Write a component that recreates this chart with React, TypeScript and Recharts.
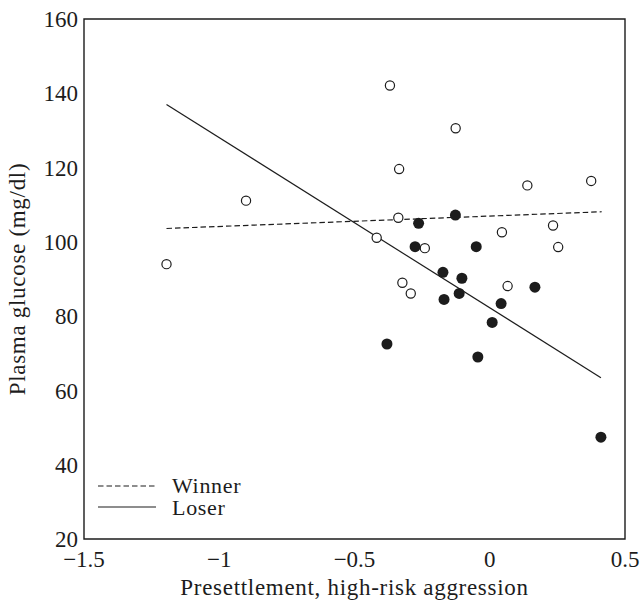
import React from "react";
import { ScatterChart, Scatter, XAxis, YAxis, ReferenceArea, Legend } from "recharts";

const xTicks = [-1.5, -1, -0.5, 0, 0.5];
const yTicks = [20, 40, 60, 80, 100, 120, 140, 160];

// Winner (open circles)
const winnerX = [-1.195, -0.901, -0.369, -0.126, -0.335, 0.139, 0.375, -0.338, 0.045, 0.234, -0.418, -0.24, 0.253, -0.323, -0.292, 0.066];
const winnerY = [94.0, 111.1, 142.1, 130.6, 119.6, 115.2, 116.4, 106.5, 102.6, 104.4, 101.1, 98.3, 98.6, 89.0, 86.1, 88.1];

// Loser (filled circles)
const loserX = [-0.127, -0.263, -0.276, -0.05, -0.173, -0.103, 0.167, -0.113, -0.169, 0.042, 0.009, -0.38, -0.044, 0.411];
const loserY = [107.2, 105.0, 98.7, 98.7, 91.8, 90.2, 87.8, 86.1, 84.5, 83.4, 78.3, 72.5, 69.0, 47.4];

// fitted lines (end points)
const winnerFitX = [-1.195, 0.414];
const winnerFitY = [103.6, 108.1];
const loserFitX = [-1.195, 0.411];
const loserFitY = [137.0, 63.4];

const legendOrder = ["Winner", "Loser"];

const zip = (xs: number[], ys: number[]) => xs.map((x, i) => ({ x, y: ys[i] }));

const INK = "#1c1c1c";
const FONT = "'Liberation Serif', 'Times New Roman', serif";
const FS = 23;
const SPACING = 0.7;

const fmt = (v: number) => (v < 0 ? "\u2212" + Math.abs(v) : String(v));

const OpenDot = (p: any) => (
  <circle cx={p.cx} cy={p.cy} r={4.6} fill="#fff" stroke={INK} strokeWidth={1.2} />
);
const FilledDot = (p: any) => <circle cx={p.cx} cy={p.cy} r={5.5} fill={INK} />;
const NoDot = () => <g />;

const dashes: Record<string, string | undefined> = { Winner: "5.5 3", Loser: undefined };

const renderLegend = (props: any) => {
  const items = (props.payload || [])
    .filter((e: any) => legendOrder.includes(e.value))
    .sort((a: any, b: any) => legendOrder.indexOf(a.value) - legendOrder.indexOf(b.value));
  return (
    <svg width={150} height={50} style={{ display: "block" }}>
      {items.map((e: any, i: number) => (
        <g key={e.value}>
          <line
            x1={2}
            x2={60}
            y1={16 + i * 21}
            y2={16 + i * 21}
            stroke={INK}
            strokeWidth={1.2}
            strokeDasharray={dashes[e.value]}
          />
          <text
            x={76}
            y={15 + i * 22}
            dominantBaseline="central"
            fontFamily={FONT}
            fontSize={22}
            letterSpacing={SPACING}
            fill={INK}
          >
            {e.value}
          </text>
        </g>
      ))}
    </svg>
  );
};

export default function App() {
  const tickStyle = { fill: INK, fontSize: FS, fontFamily: FONT };
  return (
    <div style={{ position: "absolute", left: 0, top: 0, background: "#fff" }}>
      <ScatterChart width={643} height={601} margin={{ top: 19, right: 18, bottom: 0, left: 0 }}>
        <XAxis
          type="number"
          dataKey="x"
          domain={[-1.5, 0.5]}
          ticks={xTicks}
          interval={0}
          tickFormatter={fmt}
          tickLine={false}
          axisLine={false}
          tickSize={0}
          tickMargin={12}
          height={62}
          tick={tickStyle}
          allowDataOverflow
          label={{
            value: "Presettlement, high-risk aggression",
            position: "insideBottom",
            offset: 6,
            fill: INK,
            fontSize: FS,
            fontFamily: FONT,
            style: { letterSpacing: SPACING },
          }}
        />
        <XAxis
          xAxisId="in"
          type="number"
          dataKey="x"
          mirror
          domain={[-1.5, 0.5]}
          ticks={xTicks}
          interval={0}
          tick={false}
          axisLine={false}
          tickLine={{ stroke: INK, strokeWidth: 1.3 }}
          tickSize={8}
          height={0}
          allowDataOverflow
        />
        <YAxis
          type="number"
          dataKey="y"
          domain={[20, 160]}
          ticks={yTicks}
          interval={0}
          tickLine={false}
          axisLine={false}
          tickSize={0}
          tickMargin={6}
          width={84}
          tick={tickStyle}
          allowDataOverflow
          label={{
            value: "Plasma glucose (mg/dl)",
            angle: -90,
            position: "insideLeft",
            offset: 17,
            style: { textAnchor: "middle", letterSpacing: SPACING },
            fill: INK,
            fontSize: FS,
            fontFamily: FONT,
          }}
        />
        <YAxis
          yAxisId="in"
          type="number"
          dataKey="y"
          mirror
          domain={[20, 160]}
          ticks={yTicks}
          interval={0}
          tick={false}
          axisLine={false}
          tickLine={{ stroke: INK, strokeWidth: 1.3 }}
          tickSize={8}
          width={0}
          allowDataOverflow
        />
        <ReferenceArea
          x1={-1.5}
          x2={0.5}
          y1={20}
          y2={160}
          fill="none"
          fillOpacity={0}
          stroke={INK}
          strokeWidth={1.4}
        />
        <Scatter
          name="Winner"
          data={zip(winnerFitX, winnerFitY)}
          line={{ stroke: INK, strokeWidth: 1.2, strokeDasharray: "5.5 3" }}
          shape={NoDot}
          legendType="line"
          isAnimationActive={false}
        />
        <Scatter
          name="Loser"
          data={zip(loserFitX, loserFitY)}
          line={{ stroke: INK, strokeWidth: 1.2 }}
          shape={NoDot}
          legendType="line"
          isAnimationActive={false}
        />
        <Scatter
          name="winners"
          data={zip(winnerX, winnerY)}
          shape={OpenDot}
          legendType="none"
          isAnimationActive={false}
        />
        <Scatter
          name="losers"
          data={zip(loserX, loserY)}
          shape={FilledDot}
          legendType="none"
          isAnimationActive={false}
        />
        <Legend
          layout="horizontal"
          verticalAlign="middle"
          align="center"
          wrapperStyle={{ left: 96, top: 470, width: 150, height: 50 }}
          content={renderLegend}
        />
      </ScatterChart>
    </div>
  );
}
